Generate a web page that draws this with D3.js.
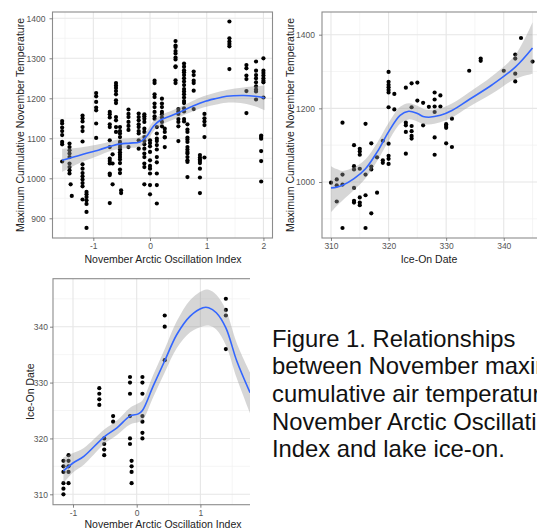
<!DOCTYPE html>
<html><head><meta charset="utf-8">
<script src="https://cdn.jsdelivr.net/npm/d3@7"></script>
<style>body{margin:0;background:#fff}svg{display:block;font-family:"Liberation Sans",Arial,sans-serif}</style>
</head><body><svg id="c" width="537" height="529"></svg>
<script>
// ---------- DATA ----------
// Panel 1: November AO index (x) vs max cumulative November temperature (y), grouped by AO value
const aoTempCols = [
  [-1.55, [1143,1137,1127,1118,1108,1091,1085,1042]],
  [-1.42, [1087,1078,1070,1062,1053,1037,1028,1020,1012]],
  [-1.40, [985]], [-1.38, [956]],
  [-1.19, [1157,1150,1142,1128,1118,1092,1035,1024,1013,1005,997,988,980,947]],
  [-1.12, [966,960,953,945,936,916,876]],
  [-0.95, [1213,1205,1191,1177,1170,1137,1101]],
  [-0.71, [1166,1160,1152,1135,1128,1095,1078,1049,1043,1037,1012,1008,938]],
  [-0.66, [1060,1037,985]],
  [-0.60, [1238,1232,1226,1218,1210,1195,1188,1153,1145,1128,1116]],
  [-0.53, [1128,1118,1112,1103,1091,1085,1078,1072,1065,1059,1053,1047,1038,1022,1013]],
  [-0.51, [970,963]],
  [-0.38, [1172,1161,1153,1141,1131,1121,1078]],
  [-0.20, [1162,1153,1145,1135,1128,1118,1112,1095,1074]],
  [-0.10, [1160,1155,1149,1141,1124,1116,1103,1093,1085,1074,1062,1053,1037,1028,985]],
  [0.00, [1095,1088,1080,1066,1045,1031,1024,1012,983,960]],
  [0.08, [1244,1238,1210,1203,1187,1178,1166,1155,1149]],
  [0.12, [1128,1112,1099,1093,1083,1072,1053,1040,1012,983,937]],
  [0.21, [1199,1187,1178,1166,1160,1152,1141,1130]],
  [0.26, [1124,1116,1103,1102,1078]],
  [0.45, [1343,1332,1328,1318,1312,1302,1297,1280,1278,1245,1238]],
  [0.50, [1173,1167,1161,1148,1141,1130,1093]],
  [0.60, [1287,1279,1270,1265,1258,1250,1242,1233,1223,1217,1210,1202,1193,1188,1175,1167,1148,1142]],
  [0.66, [1135,1122,1116,1102,1097,1091,1078,1072,1066,1062,1053,1045,1041,1003]],
  [0.77, [1267,1258,1244,1238,1219,1173]],
  [0.88, [1058,1052,1047,1043,1038,1024,1002,963]],
  [0.96, [1161,1150,1142,1133,1103,1052]],
  [1.40, [1392,1350,1342,1336,1330,1273]],
  [1.70, [1283,1275,1257,1248,1218,1163]],
  [1.87, [1292,1269,1258,1250,1240,1230,1222,1217,1197]],
  [1.96, [1107,1103,1099,1068,1043,992]],
  [2.00, [1300,1269,1263,1257,1250,1244,1240,1202]]
];
// loess fit: [x, fit, lower, upper]
const aoTempFit = [
  [-1.55,1045,1016,1074],[-1.35,1053,1031,1075],[-1.18,1060,1042,1078],[-0.9,1071,1057,1085],
  [-0.7,1080,1068,1092],[-0.53,1086,1074,1098],[-0.35,1088,1076,1100],[-0.18,1091,1079,1103],
  [-0.06,1105,1092,1118],[0.06,1130,1117,1143],[0.18,1145,1132,1158],[0.35,1155,1143,1167],
  [0.53,1166,1154,1178],[0.75,1180,1167,1193],[0.94,1191,1177,1205],[1.15,1199,1184,1214],
  [1.35,1205,1189,1221],[1.65,1207,1187,1227],[1.85,1205,1180,1230],[2.02,1201,1170,1232]
];
const aoXTicks = [-1, 0, 1, 2];
const tempYTicks1 = [900, 1000, 1100, 1200, 1300, 1400];

// Panel 2: Ice-on date (x) vs temperature (y)
const iceTempCols = [
  [310,[998]],[311,[1007,991,947]],[312,[1161,1020,993,875]],
  [314,[1100,1043,1034,984,949,944]],[315,[1090,1083,1074,1036,958,944,937]],
  [316,[1158,1020,964,875]],[317,[1105,1042,1034,915]],[318,[1067,971]],
  [319,[1112,1059,1052]],
  [320,[1299,1272,1264,1257,1250,1243,1203,1104,1071,1063,1049]],
  [321,[1239,1197]],[323,[1256,1161,1154,1136,1077]],
  [324,[1268,1203,1152,1138,1125,1118]],[325,[1270,1221]],[326,[1215,1154]],
  [327,[1204]],[328,[1243,1224,1205,1190,1121,1074]],[329,[1235,1205]],
  [330,[1157,1152,1147,1105]],[331,[1172,1095]],[334,[1302]],[336,[1335,1329]],
  [340,[1302]],[342,[1346,1335,1294,1273]],[343,[1391]],[345,[1327]]
];
const iceTempFit = [
  [310,984,918,1043],[311,986,935,1035],[312,991,950,1030],[314,1009,978,1040],
  [316,1036,1010,1062],[318,1081,1056,1106],[320,1136,1111,1160],[322,1181,1158,1204],
  [323.5,1192,1170,1214],[325,1186,1164,1207],[326,1178,1157,1199],[327,1176,1156,1196],
  [329,1181,1162,1200],[331,1194,1175,1213],[334,1224,1204,1244],[338,1264,1240,1288],
  [342,1312,1280,1345],[345,1364,1294,1434]
];
const iceXTicks = [310, 320, 330, 340];
const tempYTicks2 = [1000, 1200, 1400];

// Panel 3: AO index (x) vs ice-on date (y)
const aoIceCols = [
  [-1.15,[316,315,314,312,311,310]],[-1.07,[317,316,315,314,312]],
  [-0.587,[329,328,327,326]],[-0.51,[320,319,318,317]],[-0.37,[324,323]],
  [-0.105,[331,330,328,324,320,319]],[-0.08,[316,315,314,312]],
  [0.09,[331,330,328,324,323,321,320]],[0.44,[342,340,334]],[1.40,[345,343,342,336]]
];
const aoIceFit = [
  [-1.15,314.2,312.0,316.6],[-1.0,315.6,313.9,317.4],[-0.83,316.8,315.3,318.3],
  [-0.51,320.3,319.0,321.6],[-0.31,321.9,320.6,323.2],[-0.105,324.0,322.5,325.5],
  [0.025,324.4,322.9,326.3],[0.09,325.0,323.2,326.8],[0.26,329.4,327.4,331.4],
  [0.44,333.9,331.8,336.0],[0.63,338.6,336.2,341.0],[0.84,341.9,339.0,344.8],
  [1.04,343.4,340.1,346.5],[1.13,343.4,340.2,346.6],[1.25,342.5,339.5,345.7],
  [1.40,339.8,336.7,343.0],[1.57,333.9,330.8,337.1],[1.78,328.2,324.5,331.8]
];
const iceYTicks = [310, 320, 330, 340];

const captionLines = [
  "Figure 1. Relationships",
  "between November maximum",
  "cumulative air temperature,",
  "November Arctic Oscillation",
  "Index and lake ice-on."
];

// ---------- DRAWING ----------
const svg = d3.select("#c");
svg.append("rect").attr("width",537).attr("height",529).attr("fill","#fff");
const defs = svg.append("defs");

function flatten(cols){ return cols.flatMap(([x, ys]) => ys.map(y => ({x, y}))); }

function panel(c){
  const x = d3.scaleLinear().domain(c.xDomain).range([c.left, c.right]);
  const y = d3.scaleLinear().domain(c.yDomain).range([c.bottom, c.top]);
  const g = svg.append("g");
  const body = g.append("g");
  if (c.clipRight){
    defs.append("clipPath").attr("id", c.id).append("rect")
      .attr("x", 0).attr("y", c.top - 3).attr("width", c.clipRight).attr("height", c.bottom - c.top + 6);
    body.attr("clip-path", `url(#${c.id})`);
  }
  // minor grid
  body.selectAll(".mx").data(c.xMinor).join("line")
    .attr("x1", d => x(d)).attr("x2", d => x(d)).attr("y1", c.top).attr("y2", c.bottom)
    .attr("stroke", "#f1f1f1").attr("stroke-width", 0.7);
  body.selectAll(".my").data(c.yMinor).join("line")
    .attr("y1", d => y(d)).attr("y2", d => y(d)).attr("x1", c.left).attr("x2", c.right)
    .attr("stroke", "#f1f1f1").attr("stroke-width", 0.7);
  // major grid
  body.selectAll(".gx").data(c.xTicks).join("line")
    .attr("x1", d => x(d)).attr("x2", d => x(d)).attr("y1", c.top).attr("y2", c.bottom)
    .attr("stroke", "#e6e6e6").attr("stroke-width", 1.1);
  body.selectAll(".gy").data(c.yTicks).join("line")
    .attr("y1", d => y(d)).attr("y2", d => y(d)).attr("x1", c.left).attr("x2", c.right)
    .attr("stroke", "#e6e6e6").attr("stroke-width", 1.1);
  // points
  body.selectAll("circle").data(flatten(c.cols)).join("circle")
    .attr("cx", d => x(d.x)).attr("cy", d => y(d.y)).attr("r", 2.1).attr("fill", "#000");
  // ribbon
  const area = d3.area().x(d => x(d[0])).y0(d => y(d[2])).y1(d => y(d[3])).curve(d3.curveCatmullRom);
  body.append("path").datum(c.fit).attr("d", area).attr("fill", "#999999").attr("fill-opacity", 0.4);
  const line = d3.line().x(d => x(d[0])).y(d => y(d[1])).curve(d3.curveCatmullRom);
  body.append("path").datum(c.fit).attr("d", line).attr("fill", "none")
    .attr("stroke", "#3366FF").attr("stroke-width", 1.6);
  // border
  body.append("rect").attr("x", c.left).attr("y", c.top)
    .attr("width", c.right - c.left).attr("height", c.bottom - c.top)
    .attr("fill", "none").attr("stroke", "#8c8c8c").attr("stroke-width", 1.1);
  // axes
  const ax = g.append("g").attr("transform", `translate(0,${c.bottom})`)
    .call(d3.axisBottom(x).tickValues(c.xTicks).tickSize(3).tickSizeOuter(0).tickPadding(2).tickFormat(d => String(d)));
  const ay = g.append("g").attr("transform", `translate(${c.left},0)`)
    .call(d3.axisLeft(y).tickValues(c.yTicks).tickSize(3).tickSizeOuter(0).tickPadding(c.yPad).tickFormat(d => String(d)));
  [ax, ay].forEach(a => {
    a.select(".domain").remove();
    a.selectAll(".tick line").attr("stroke", "#666").attr("stroke-width", 0.8);
    a.selectAll(".tick text").attr("fill", "#555").attr("font-size", 8.5)
      .attr("font-family", '"Liberation Sans",Arial,sans-serif');
  });
  // titles
  g.append("text").attr("x", c.xTitleX).attr("y", c.xTitleY).attr("text-anchor", "middle")
    .attr("font-size", 10.5).attr("fill", "#222").text(c.xTitle);
  g.append("text").attr("transform", `translate(${c.yTitleX},${(c.top + c.bottom) / 2}) rotate(-90)`)
    .attr("text-anchor", "middle").attr("font-size", 10.5).attr("fill", "#222").text(c.yTitle);
}

panel({
  id: "p1", left: 52.5, right: 272.5, top: 12, bottom: 238,
  xDomain: [-1.72, 2.16], yDomain: [850.75, 1415.75],
  xTicks: aoXTicks, yTicks: tempYTicks1,
  xMinor: [-1.5, -0.5, 0.5, 1.5], yMinor: [950, 1050, 1150, 1250, 1350],
  cols: aoTempCols, fit: aoTempFit, yPad: 4,
  xTitle: "November Arctic Oscillation Index", xTitleX: 163, xTitleY: 262.5,
  yTitle: "Maximum Cumulative November Temperature", yTitleX: 24
});
panel({
  id: "p2", left: 322, right: 541, top: 12, bottom: 238,
  xDomain: [308.44, 346.47], yDomain: [847.9, 1461.6],
  xTicks: iceXTicks, yTicks: tempYTicks2,
  xMinor: [315, 325, 335, 345], yMinor: [900, 1100, 1300],
  cols: iceTempCols, fit: iceTempFit, yPad: 4,
  xTitle: "Ice-On Date", xTitleX: 429, xTitleY: 262.5,
  yTitle: "Maximum Cumulative November Temperature", yTitleX: 293.5
});
panel({
  id: "p3", left: 53, right: 273, top: 278.7, bottom: 504.7, clipRight: 250,
  xDomain: [-1.314, 2.14], yDomain: [308.14, 348.59],
  xTicks: [-1, 0, 1], yTicks: iceYTicks,
  xMinor: [-0.5, 0.5, 1.5], yMinor: [315, 325, 335, 345],
  cols: aoIceCols, fit: aoIceFit, yPad: 2,
  xTitle: "November Arctic Oscillation Index", xTitleX: 163, xTitleY: 528,
  yTitle: "Ice-On Date", yTitleX: 33.5
});

// caption
svg.append("g").selectAll("text").data(captionLines).join("text")
  .attr("x", 272).attr("y", (d, i) => 346.7 + i * 27.6)
  .attr("font-size", 23.8).attr("fill", "#111").text(d => d);
</script></body></html>
